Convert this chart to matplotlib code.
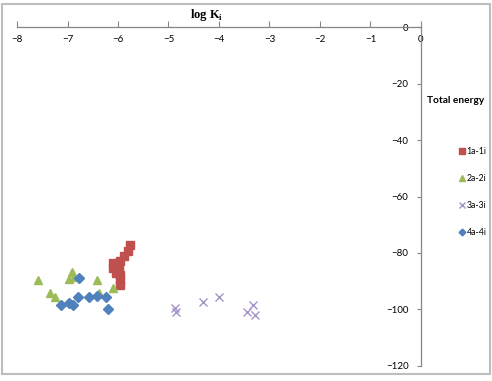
import matplotlib
matplotlib.use('Agg')
import matplotlib.pyplot as plt
from matplotlib.patches import Rectangle

# log Ki vs total energy, four series
x1 = [-5.76, -5.81, -5.88, -5.96, -6.09, -6.09, -5.99, -6.03, -5.96, -5.96, -5.96]
y1 = [-77.2, -79.4, -81.1, -82.8, -83.5, -85.3, -85.3, -87.1, -87.7, -89.5, -91.2]
x2 = [-7.58, -7.35, -7.25, -6.98, -6.92, -6.88, -6.41, -6.38, -6.10]
y2 = [-89.6, -94.2, -95.5, -89.2, -86.6, -88.6, -89.6, -94.2, -92.5]
x3 = [-4.87, -4.85, -4.32, -3.99, -3.45, -3.33, -3.29]
y3 = [-99.5, -101.0, -97.2, -95.5, -100.8, -98.4, -102.0]
x4 = [-6.77, -7.12, -6.98, -6.89, -6.79, -6.57, -6.41, -6.24, -6.19]
y4 = [-89.0, -98.4, -97.8, -98.4, -95.5, -95.5, -95.2, -95.5, -99.8]
labels = ['1a-1i', '2a-2i', '3a-3i', '4a-4i']

AXC = '#868686'
plt.rcParams['font.family'] = ['Lato', 'DejaVu Sans']

fig = plt.figure(figsize=(4.92, 3.81), dpi=100)
fig.patches.append(Rectangle((0.004, 0.018), 0.992, 0.971, transform=fig.transFigure,
                             fill=False, edgecolor='#bdbdbd', linewidth=1.5))
ax = fig.add_axes([0.0346, 0.0394, 0.821, 0.8897])

ax.plot(x1, y1, 's', color='#c0504d', ms=6, label=labels[0], ls='none')
ax.plot(x2, y2, '^', color='#9bbb59', ms=6, label=labels[1], ls='none')
ax.plot(x3, y3, 'x', color='#a494c8', ms=6, mew=1.0, label=labels[2], ls='none')
ax.plot(x4, y4, 'D', color='#4f81bd', ms=4.6, label=labels[3], ls='none')

ax.set_xlim(-8, 0)
ax.set_ylim(-120, 0)
ax.set_xticks(range(-8, 1))
ax.set_yticks(range(-120, 1, 20))
for s in ('top', 'right'):
    ax.spines[s].set_visible(False)
ax.spines['bottom'].set_position(('data', 0))
ax.spines['left'].set_position(('data', 0))
for s in ('bottom', 'left'):
    ax.spines[s].set_color(AXC)
    ax.spines[s].set_linewidth(0.9)
ax.tick_params(axis='x', direction='in', length=4, color=AXC, labelsize=7, pad=6)
ax.tick_params(axis='y', direction='out', length=3, color=AXC, labelsize=7, pad=6)
ax.patch.set_visible(False)

fig.text(0.42, 0.94, r'log K$_\mathregular{i}$', fontsize=9, fontweight='bold',
         family='Liberation Serif', ha='center', va='bottom')
fig.text(0.927, 0.737, 'Total energy', fontsize=7.3, fontweight='bold', ha='center', va='center')

ax.legend(loc='upper left', bbox_to_anchor=(0.925, 0.625), bbox_transform=fig.transFigure,
          frameon=False, fontsize=6.3, handlelength=0.5, handletextpad=0.3,
          labelspacing=2.05, borderpad=0, markerscale=0.75)

fig.savefig('out.png')
